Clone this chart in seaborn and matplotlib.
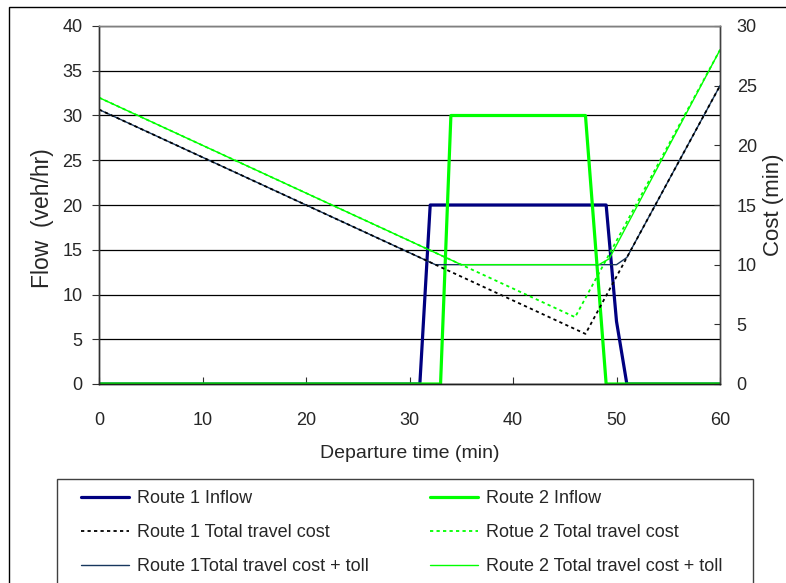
import matplotlib
matplotlib.use("Agg")
import matplotlib.pyplot as plt
from matplotlib.patches import Rectangle
import seaborn as sns

# inflow, veh/hr (left axis)
r1_in_time = [0, 31, 32, 49, 50, 51, 60]
r1_inflow = [0, 0, 20, 20, 7, 0, 0]
r2_in_time = [0, 33, 34, 47, 49, 60]
r2_inflow = [0, 0, 30, 30, 0, 0]

# costs, min (right axis)
r1_cost_time = [0, 47, 60]
r1_cost = [23, 4.2, 25]
r2_cost_time = [0, 46, 60]
r2_cost = [24, 5.6, 28]
r1_toll_time = [0, 32.5, 50, 51, 60]
r1_toll_cost = [23, 10, 10, 10.6, 25]
r2_toll_time = [0, 35, 48.3, 49.3, 60]
r2_toll_cost = [24, 10, 10, 10.5, 28]

x_ticks = [0, 10, 20, 30, 40, 50, 60]
flow_ticks = [0, 5, 10, 15, 20, 25, 30, 35, 40]
cost_ticks = [0, 5, 10, 15, 20, 25, 30]

sns.set_theme(style="white")
plt.rcParams['font.family'] = ['Liberation Sans', 'DejaVu Sans']

W, H = 786, 583
fig = plt.figure(figsize=(W / 100, H / 100), dpi=100)
ax = fig.add_axes([99 / W, 1 - 384 / H, 621 / W, 358 / H])
ax2 = ax.twinx()

navy = '#000080'
green = '#00FF00'
toll_blue = '#17375E'

# flows on the left axis
sns.lineplot(x=r1_in_time, y=r1_inflow, ax=ax, color=navy, linewidth=2.3,
             estimator=None, sort=False, label="Route 1 Inflow")
sns.lineplot(x=r2_in_time, y=r2_inflow, ax=ax, color=green, linewidth=2.3,
             estimator=None, sort=False, label="Route 2 Inflow")

# costs on the right axis
sns.lineplot(x=r1_toll_time, y=r1_toll_cost, ax=ax2, color=toll_blue, linewidth=1.0,
             estimator=None, sort=False, label="Route 1Total travel cost + toll")
sns.lineplot(x=r2_toll_time, y=r2_toll_cost, ax=ax2, color=green, linewidth=1.0,
             estimator=None, sort=False, label="Route 2 Total travel cost + toll")
sns.lineplot(x=r1_cost_time, y=r1_cost, ax=ax2, color='black', linewidth=1.3,
             linestyle=(0, (1.8, 1.8)), estimator=None, sort=False,
             label="Route 1 Total travel cost")
sns.lineplot(x=r2_cost_time, y=r2_cost, ax=ax2, color=green, linewidth=1.3,
             linestyle=(0, (1.8, 1.8)), estimator=None, sort=False,
             label="Rotue 2 Total travel cost")

for a in (ax, ax2):
    if a.get_legend() is not None:
        a.get_legend().remove()

ax.set_xlim(0, 60)
ax.set_ylim(0, 40)
ax2.set_ylim(0, 30)
ax.set_xticks(x_ticks)
ax.set_yticks(flow_ticks)
ax2.set_yticks(cost_ticks)

ax.yaxis.grid(True, color='black', linewidth=0.9)
ax.xaxis.grid(False)
ax2.grid(False)
ax.set_axisbelow(True)

for a in (ax, ax2):
    a.spines['top'].set_color('#808080')
    a.spines['left'].set_color('#303030')
    a.spines['right'].set_color('#404040')
    a.spines['bottom'].set_color('#202020')
    for s in a.spines.values():
        s.set_linewidth(1.0)

ax.tick_params(axis='y', direction='out', length=5, width=0.8, color='#303030',
               pad=7, labelsize=13, left=True)
ax.tick_params(axis='x', direction='in', length=5, width=0.8, color='#303030',
               pad=20, labelsize=13, bottom=True)
ax2.tick_params(axis='y', direction='in', length=4.3, width=0.8, color='#303030',
                pad=12, labelsize=13, right=True)

ax.set_xlabel("Departure time (min)", fontsize=14, va='center')
ax.xaxis.set_label_coords(0.5, -0.1955)
ax.set_ylabel("Flow  (veh/hr)", fontsize=16.5, va='center', ha='center')
ax.yaxis.set_label_coords(-0.0902, 0.4637)
ax2.set_ylabel("Cost (min)", fontsize=16, va='center', ha='center', rotation=90)
ax2.yaxis.set_label_coords(1.086, 0.5)

# legend, two columns like the original
order = ["Route 1 Inflow", "Route 1 Total travel cost", "Route 1Total travel cost + toll",
         "Route 2 Inflow", "Rotue 2 Total travel cost", "Route 2 Total travel cost + toll"]
lines = {l.get_label(): l for l in ax.get_lines() + ax2.get_lines()}
handles = [lines[k] for k in order]
fig.legend(handles, order, loc='upper left', ncol=2, frameon=False,
           bbox_to_anchor=(81 / W, 1 - 490 / H), borderaxespad=0, borderpad=0,
           fontsize=13, handlelength=2.67, handletextpad=0.44,
           labelspacing=0.95, columnspacing=3.35)

# legend frame and outer chart border
fig.patches.append(Rectangle((57 / W, -0.05), (753 - 57) / W, 0.05 + 1 - 479 / H,
                             transform=fig.transFigure, fill=False,
                             edgecolor='#404040', linewidth=1.0))
fig.patches.append(Rectangle((9 / W, -0.1), 1.2, 0.1 + 1 - 7 / H,
                             transform=fig.transFigure, fill=False,
                             edgecolor='black', linewidth=1.0))

fig.savefig("out.png", dpi=100)
